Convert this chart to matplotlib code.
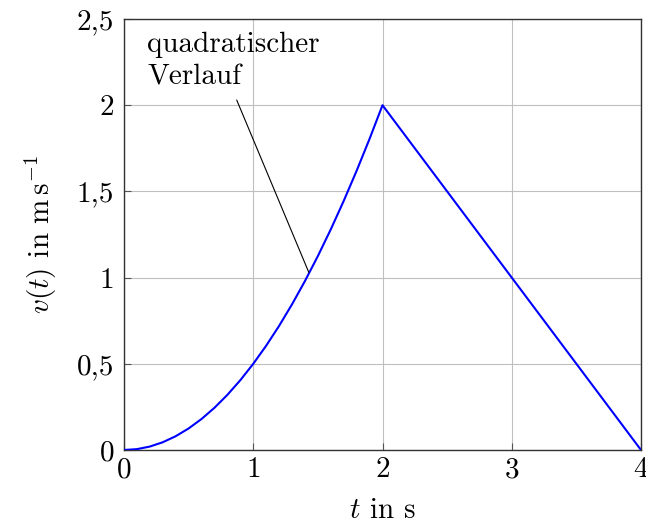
import matplotlib
matplotlib.use("Agg")
import matplotlib.pyplot as plt

plt.rcParams["font.family"] = "serif"
plt.rcParams["font.serif"] = ["cmr10", "DejaVu Serif"]
plt.rcParams["mathtext.fontset"] = "cm"
plt.rcParams["axes.unicode_minus"] = False

# velocity profile: quadratic rise, then linear decay
t_values = [0.0, 0.1, 0.2, 0.3, 0.4, 0.5, 0.6, 0.7, 0.8, 0.9, 1.0,
            1.1, 1.2, 1.3, 1.4, 1.5, 1.6, 1.7, 1.8, 1.9, 2.0, 4.0]
v_values = [0.0, 0.005, 0.02, 0.045, 0.08, 0.125, 0.18, 0.245, 0.32, 0.405, 0.5,
            0.605, 0.72, 0.845, 0.98, 1.125, 1.28, 1.445, 1.62, 1.805, 2.0, 0.0]

x_ticks = [0, 1, 2, 3, 4]
x_ticklabels = ["0", "1", "2", "3", "4"]
y_ticks = [0, 0.5, 1, 1.5, 2, 2.5]
y_ticklabels = ["0", "0,5", "1", "1,5", "2", "2,5"]

annot_text = "quadratischer\nVerlauf"
annot_point = (1.43, 1.03)
annot_start = (0.872, 2.03)

FS = 21

fig = plt.figure(figsize=(6.46, 5.24), dpi=100)
ax = fig.add_axes([124 / 646, 1 - 450 / 524, (641 - 124) / 646, (450 - 19) / 524])

ax.plot(t_values, v_values, color="#0000ff", lw=1.5, zorder=3)

ax.set_xlim(0, 4)
ax.set_ylim(0, 2.5)
ax.set_xticks(x_ticks)
ax.set_xticklabels(x_ticklabels)
ax.set_yticks(y_ticks)
ax.set_yticklabels(y_ticklabels)
ax.grid(True, color="#bfbfbf", lw=0.8)
ax.set_axisbelow(True)
ax.tick_params(direction="in", length=5, width=0.8, color="#555555",
               labelsize=FS)
ax.tick_params(axis="x", pad=5)
ax.tick_params(axis="y", pad=7)
for s in ax.spines.values():
    s.set_color("#333333")
    s.set_linewidth(1.0)

ax.set_xlabel(r"$t$ in s", fontsize=FS, labelpad=10)
ax.set_ylabel(r"$v(t)$ in m$\,$s$^{-1}$", fontsize=FS, labelpad=13)

ax.annotate("", xy=annot_point, xytext=annot_start,
            arrowprops=dict(arrowstyle="-", color="black", lw=0.8,
                            shrinkA=0, shrinkB=0))
ax.text(0.18, 2.425, annot_text, fontsize=FS, va="top", ha="left",
        linespacing=1.3)

fig.savefig("out.png", dpi=100)
